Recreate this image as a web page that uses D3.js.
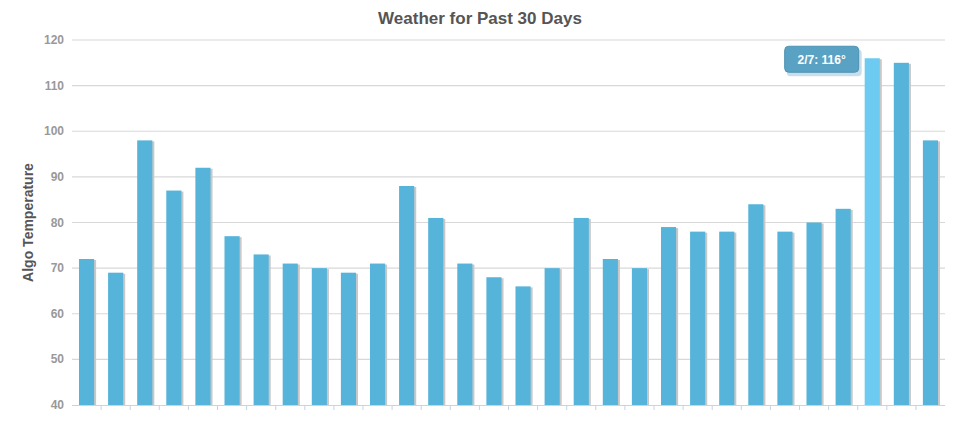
<!DOCTYPE html>
<html>
<head>
<meta charset="utf-8">
<script src="https://cdn.jsdelivr.net/npm/d3@7"></script>
<style>
  body { margin: 0; background: #fff; }
  text { font-family: "Liberation Sans", Arial, sans-serif; }
</style>
</head>
<body>
<svg id="chart" width="966" height="422"></svg>
<script>
// values
var days = ["1/11","1/12","1/13","1/14","1/15","1/16","1/17","1/18","1/19","1/20",
            "1/21","1/22","1/23","1/24","1/25","1/26","1/27","1/28","1/29","1/30",
            "1/31","2/1","2/2","2/3","2/4","2/5","2/6","2/7","2/8","2/9"];
var temps = [72,69,98,87,92,77,73,71,70,69,71,88,81,71,68,66,70,81,72,70,
             79,78,78,84,78,80,83,116,115,98];
var yTicks = [40,50,60,70,80,90,100,110,120];
var hoverIndex = 27;

var svg = d3.select("#chart");
// note: "top" is taken by window.top, so use other names
var plotL = 72, plotR = 945, plotT = 40, plotB = 405;

var x = d3.scaleBand().domain(days).range([plotL, plotR]).paddingInner(0.48).paddingOuter(0.24);
var y = d3.scaleLinear().domain([40, 120]).range([plotB, plotT]);

svg.append("text").attr("x", 480).attr("y", 24).attr("text-anchor", "middle")
   .attr("font-size", 17).attr("font-weight", "bold").attr("fill", "#555")
   .text("Weather for Past 30 Days");

// grid lines
svg.append("g").selectAll("line").data(yTicks.slice(1)).join("line")
   .attr("x1", plotL).attr("x2", plotR)
   .attr("y1", function(d){ return y(d); }).attr("y2", function(d){ return y(d); })
   .attr("stroke", "#d8d8d8").attr("stroke-width", 1.2);

svg.append("g").selectAll("text").data(yTicks).join("text")
   .attr("x", plotL - 8).attr("y", function(d){ return y(d) + 4; })
   .attr("text-anchor", "end").attr("font-size", 12).attr("font-weight", "bold")
   .attr("fill", "#999").text(function(d){ return d; });

svg.append("text").attr("transform", "translate(33," + ((plotT + plotB) / 2) + ") rotate(-90)")
   .attr("text-anchor", "middle").attr("font-size", 14).attr("font-weight", "bold")
   .attr("fill", "#555").text("Algo Temperature");

// shadows then bars
svg.append("g").selectAll("rect").data(temps).join("rect")
   .attr("x", function(d, i){ return x(days[i]) + 2; })
   .attr("y", function(d){ return y(d) + 1; })
   .attr("width", x.bandwidth()).attr("height", function(d){ return plotB - y(d) - 1; })
   .attr("fill", "#c8c8c8");
svg.append("g").selectAll("rect").data(temps).join("rect")
   .attr("x", function(d, i){ return x(days[i]); })
   .attr("y", function(d){ return y(d); })
   .attr("width", x.bandwidth()).attr("height", function(d){ return plotB - y(d); })
   .attr("fill", function(d, i){ return i === hoverIndex ? "#6dcbf2" : "#56b4da"; });

// x axis baseline and ticks
var bounds = d3.range(1, days.length).map(function(i){ return plotL + i * (plotR - plotL) / days.length; });
svg.append("line").attr("x1", plotL).attr("x2", plotR).attr("y1", plotB + 0.5).attr("y2", plotB + 0.5)
   .attr("stroke", "#c6d4e4").attr("stroke-width", 1);
svg.append("g").selectAll("line").data(bounds).join("line")
   .attr("x1", function(d){ return d; }).attr("x2", function(d){ return d; })
   .attr("y1", plotB).attr("y2", plotB + 5).attr("stroke", "#c6d4e4");

// tooltip
var tx = x(days[hoverIndex]) - 6, ty = y(temps[hoverIndex]) + 4;
var tip = svg.append("g");
tip.append("rect").attr("x", tx - 73).attr("y", ty - 15).attr("width", 75).attr("height", 27)
   .attr("rx", 4).attr("fill", "#4a94b8").attr("opacity", 0.3).attr("transform", "translate(1,2)");
tip.append("rect").attr("x", tx - 74).attr("y", ty - 16).attr("width", 74).attr("height", 26)
   .attr("rx", 4).attr("fill", "#5aa2c4").attr("stroke", "#4d93b5");
tip.append("text").attr("x", tx - 37).attr("y", ty + 2).attr("text-anchor", "middle")
   .attr("font-size", 12).attr("font-weight", "bold").attr("fill", "#fff")
   .attr("font-family", "DejaVu Sans")
   .text(days[hoverIndex] + ": " + temps[hoverIndex] + "°");
</script>
</body>
</html>
